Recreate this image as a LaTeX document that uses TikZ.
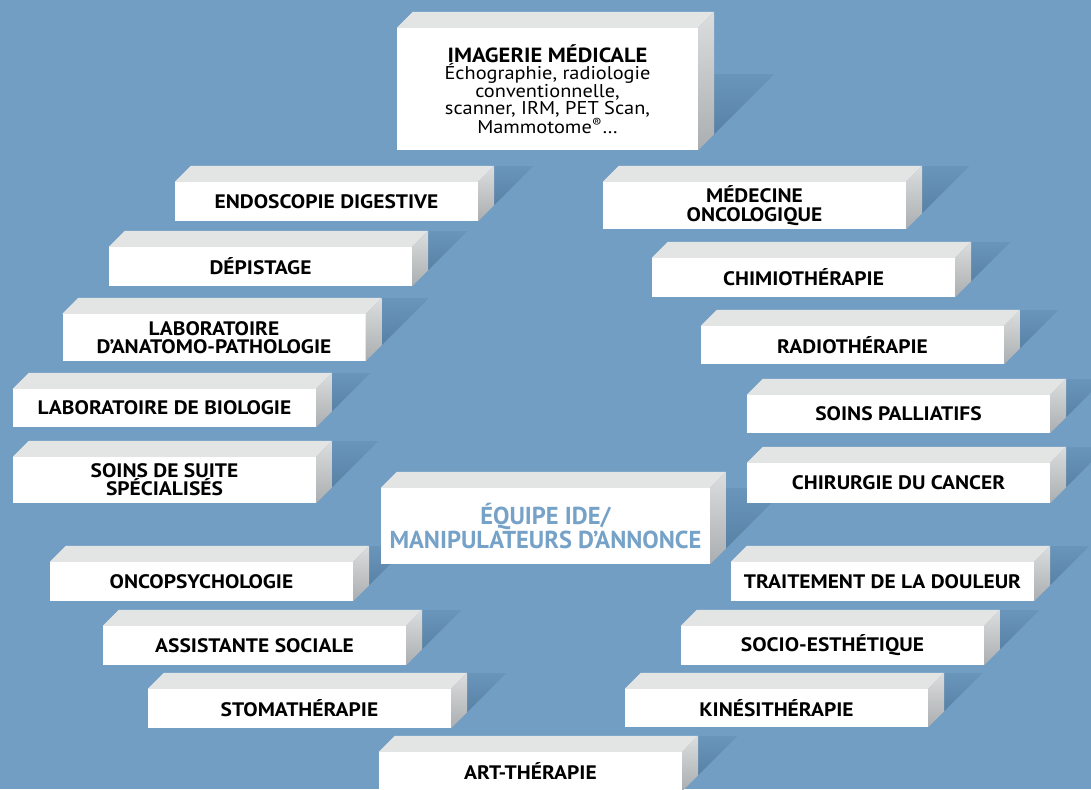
\documentclass[tikz,border=0pt]{standalone}
\usepackage{fontspec}
\setmainfont{PT Sans}[FakeStretch=1.1]
\newfontfamily\plainsans{PT Sans}
\usetikzlibrary{calc}

\pgfdeclarelayer{background}
\pgfsetlayers{background,main}

\definecolor{bgblue}{HTML}{729EC4}
\definecolor{shadowblue}{HTML}{5881A5}
\definecolor{topgrey}{HTML}{E3E5E5}
\definecolor{sidelight}{HTML}{DBDDDE}
\definecolor{sidedark}{HTML}{ABAEB0}
\definecolor{titleblue}{HTML}{76A2C8}

\tikzset{
  slab/.style={fill=white, inner sep=0pt, align=center, text=black,
    minimum width=303pt, minimum height=39pt,
    font=\bfseries\fontsize{19.5}{18.5}\selectfont},
}

% top face, right face and shadow of a slab: #1 node, #2 shadow size
\newcommand\slabfaces[2]{%
  \fill[topgrey] (#1.north west) -- ++(16pt,16pt) -- ($(#1.north east)+(16pt,16pt)$) -- (#1.north east) -- cycle;
  \shade[top color=sidelight, bottom color=sidedark] (#1.north east) -- ++(16pt,16pt) -- ($(#1.south east)+(16pt,16pt)$) -- (#1.south east) -- cycle;
  \begin{pgfonlayer}{background}
    \shade[top color=shadowblue!30!bgblue, bottom color=shadowblue] ($(#1.south east)+(16pt,16pt)$) -- ++(0pt,#2pt) -- ++(#2pt,0pt) -- cycle;
  \end{pgfonlayer}
}

\begin{document}
\begin{tikzpicture}[x=1pt, y=-1pt]

  \useasboundingbox (0,0) rectangle (1091,789);
  \begin{pgfonlayer}{background}
    \fill[bgblue] (0,0) rectangle (1091,789);
  \end{pgfonlayer}

  \node (imagerie) at (547.5, 89) [slab, minimum width=301pt, minimum height=122pt, font=\fontsize{18.5}{17}\selectfont]
    {{\bfseries\fontsize{20.5}{19}\selectfont IMAGERIE MÉDICALE}\\Échographie, radiologie\\conventionnelle,\\scanner, IRM, PET Scan,\\Mammotome\textsuperscript{®}…};

  % left column
  \node (endoscopie) at (326.5, 201.5) [slab] {ENDOSCOPIE DIGESTIVE};
  \node (depistage) at (260.5, 266.5) [slab] {DÉPISTAGE};
  \node (anapath) at (214, 337.5) [slab, minimum height=47pt] {LABORATOIRE\\D’ANATOMO-PATHOLOGIE};
  \node (biologie) at (164.5, 408) [slab, minimum height=38pt] {LABORATOIRE DE BIOLOGIE};
  \node (suite) at (164.5, 480) [slab, minimum height=46pt, font=\bfseries\fontsize{19.5}{16}\selectfont] {SOINS DE SUITE\\SPÉCIALISÉS};
  \node (oncopsy) at (201.5, 581.5) [slab] {ONCOPSYCHOLOGIE};
  \node (social) at (254.5, 645.5) [slab] {ASSISTANTE SOCIALE};
  \node (stoma) at (299.5, 708.5) [slab] {STOMATHÉRAPIE};
  \node (art) at (530.5, 771.5) [slab] {ART-THÉRAPIE};

  % centre
  \node (equipe) at (545.5, 526) [slab, minimum width=329pt, minimum height=76pt, text=titleblue, font=\plainsans\bfseries\fontsize{24.5}{24}\selectfont]
    {ÉQUIPE IDE/\\MANIPULATEURS D’ANNONCE};

  % right column
  \node (medecine) at (754.5, 205.5) [slab, minimum height=47pt] {MÉDECINE\\ONCOLOGIQUE};
  \node (chimio) at (803.5, 277.5) [slab] {CHIMIOTHÉRAPIE};
  \node (radio) at (852.5, 345) [slab, minimum height=38pt] {RADIOTHÉRAPIE};
  \node (palliatifs) at (898.5, 414) [slab, minimum height=38pt] {SOINS PALLIATIFS};
  \node (chirurgie) at (898.5, 483) [slab, minimum height=40pt] {CHIRURGIE DU CANCER};
  \node (douleur) at (882.5, 581.5) [slab] {TRAITEMENT DE LA DOULEUR};
  \node (esthetique) at (832.5, 645.5) [slab] {SOCIO-ESTHÉTIQUE};
  \node (kine) at (776.5, 708) [slab, minimum height=38pt] {KINÉSITHÉRAPIE};

  \foreach \n/\s in {imagerie/60, endoscopie/39, depistage/39, anapath/47, biologie/38, suite/46,
      oncopsy/39, social/39, stoma/39, art/39, equipe/60, medecine/47, chimio/39, radio/38,
      palliatifs/38, chirurgie/40, douleur/39, esthetique/39, kine/38}
    \slabfaces{\n}{\s};

\end{tikzpicture}
\end{document}
